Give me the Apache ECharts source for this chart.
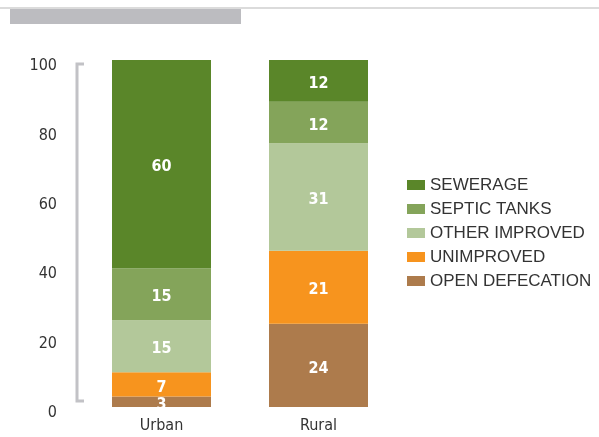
<!DOCTYPE html>
<html>
<head>
<meta charset="utf-8">
<script src="https://cdn.jsdelivr.net/npm/echarts@6/dist/echarts.min.js"></script>
<style>
html, body { margin: 0; padding: 0; background: #fff; }
#chart { width: 599px; height: 437px; }
</style>
</head>
<body>
<div id="chart"></div>
<script>
var categories = ['Urban', 'Rural'];
var seriesNames = ['OPEN DEFECATION', 'UNIMPROVED', 'OTHER IMPROVED', 'SEPTIC TANKS', 'SEWERAGE'];
var openDefecation = [3, 24];
var unimproved = [7, 21];
var otherImproved = [15, 31];
var septicTanks = [15, 12];
var sewerage = [60, 12];
var yTicks = [0, 20, 40, 60, 80, 100];

var colors = ['#ad7b4c', '#f7941e', '#b3c89a', '#84a45a', '#5a8629'];
var values = [openDefecation, unimproved, otherImproved, septicTanks, sewerage];
var narrow = '"Liberation Sans Narrow", "DejaVu Sans Condensed", sans-serif';

var myChart = echarts.init(document.getElementById('chart'));

var series = [];
for (var i = 0; i < seriesNames.length; i++) {
	series.push({
		name: seriesNames[i],
		type: 'bar',
		stack: 'total',
		barWidth: 99,
		itemStyle: { color: colors[i] },
		label: {
			show: true,
			position: 'inside',
			offset: [0, 3],
			color: '#fff',
			fontFamily: narrow,
			fontWeight: 'bold',
			fontSize: 16
		},
		data: values[i]
	});
}

option = {
	animation: false,
	grid: {
		left: 83,
		right: 202,
		top: 60,
		bottom: 30
	},
	legend: {
		orient: 'vertical',
		left: 402,
		top: 171,
		itemWidth: 18,
		itemHeight: 10,
		itemGap: 6,
		icon: 'rect',
		data: ['SEWERAGE', 'SEPTIC TANKS', 'OTHER IMPROVED', 'UNIMPROVED', 'OPEN DEFECATION'],
		textStyle: {
			color: '#333',
			fontSize: 17,
			lineHeight: 18,
			fontFamily: '"Liberation Sans", Arial, sans-serif'
		}
	},
	xAxis: {
		type: 'category',
		data: categories,
		axisLine: { show: false },
		axisTick: { show: false },
		axisLabel: {
			color: '#333',
			fontSize: 16,
			fontFamily: narrow,
			margin: 11
		}
	},
	yAxis: {
		type: 'value',
		min: yTicks[0],
		max: yTicks[yTicks.length - 1],
		interval: 20,
		axisLine: { show: false },
		axisTick: { show: false },
		splitLine: { show: false },
		axisLabel: {
			color: '#333',
			fontSize: 16,
			fontFamily: narrow,
			margin: 26,
			verticalAlign: 'top',
			lineHeight: 12
		}
	},
	graphic: [{
		type: 'line',
		shape: { x1: 0, y1: 8, x2: 599, y2: 8 },
		style: { stroke: '#cfcfcf', lineWidth: 1.5 }
	}, {
		type: 'rect',
		shape: { x: 10, y: 9, width: 231, height: 15 },
		style: { fill: '#bcbcc0' }
	}, {
		type: 'polyline',
		shape: { points: [[84, 64], [77, 64], [77, 401], [84, 401]] },
		style: { stroke: '#c2c2c6', lineWidth: 3, fill: null }
	}],
	series: series
};

myChart.setOption(option);
</script>
</body>
</html>
